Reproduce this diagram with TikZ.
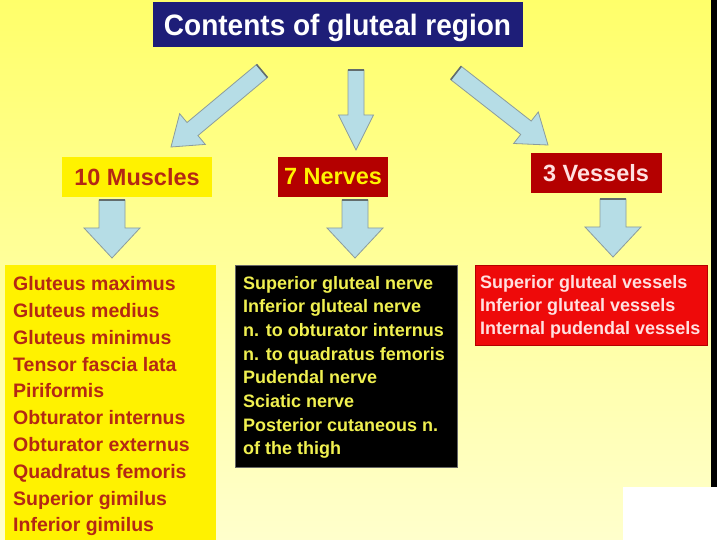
\documentclass[tikz,border=0pt]{standalone}
\usepackage{fontspec}
\setmainfont{Liberation Sans}
\newfontfamily\titlefont[FakeStretch=0.95]{Liberation Sans}
\usetikzlibrary{calc}
\definecolor{bgtop}{HTML}{FFFF6A}
\definecolor{bgbot}{HTML}{FFFFCC}
\definecolor{navy}{HTML}{1E1E78}
\definecolor{darkred}{HTML}{B40000}
\definecolor{mtextc}{HTML}{B42814}
\definecolor{ntextc}{HTML}{F0F050}
\definecolor{vredc}{HTML}{EE0A0A}
\definecolor{vtextc}{HTML}{FFE0E0}
\definecolor{arrfill}{HTML}{B6DDE6}
\definecolor{arrdraw}{HTML}{8C9C9C}
\newcommand\blkarrow[5]{%
  \path ($(#2)!#5!(#1)$) coordinate (tmpC);
  \draw[blockarr] ($(#1)!#3!90:(#2)$) -- ($(tmpC)!#3!90:(#2)$) -- ($(tmpC)!#4!90:(#2)$) -- (#2)
    -- ($(tmpC)!#4!-90:(#2)$) -- ($(tmpC)!#3!-90:(#2)$) -- ($(#1)!#3!-90:(#2)$) -- cycle;
  \draw[tailcap] ($(#1)!#3!90:(#2)$) -- ($(#1)!#3!-90:(#2)$);
}
\begin{document}
\begin{tikzpicture}[x=1pt,y=-1pt,
  blockarr/.style={fill=arrfill, draw=arrdraw, line width=0.8pt, line join=miter},
  tailcap/.style={draw=arrdraw!70!black, line width=1.6pt},
  titlebox/.style={fill=navy, text=white, minimum width=370, minimum height=45, inner sep=0,
    text height=25, text depth=3,
    font=\titlefont\fontsize{29.5}{34}\selectfont\bfseries},
  lbl/.style={inner sep=0, font=\fontsize{23.5}{28}\selectfont\bfseries},
  listtext/.style={inner sep=0, align=left, anchor=north west},
  plainbox/.style={inner sep=0, anchor=north west}
]
\useasboundingbox (0,0) rectangle (720,540);
\fill[top color=bgtop, bottom color=bgbot] (0,0) rectangle (720,540);
\fill[black] (711,0) rectangle (717,487);
\fill[white] (717,0) rectangle (720,540);
\fill[white] (623,487) rectangle (720,540);

% title
\node[titlebox] (title) at (337.5,24.5) {Contents of gluteal region};

% category labels
\node[lbl, fill=yellow, text=mtextc, minimum width=150, minimum height=40] (mus) at (137,177) {10 Muscles};
\node[lbl, fill=darkred, text=yellow, minimum width=110, minimum height=40] (ner) at (333,177) {7 Nerves};
\node[lbl, fill=darkred, text=vtextc, minimum width=131, minimum height=40] (ves) at (596,173) {3 Vessels};

% top arrows
\coordinate (t1) at (262,71);  \coordinate (e1) at (171,147);
\coordinate (t2) at (356,70);  \coordinate (e2) at (356,150);
\coordinate (t3) at (456,73);  \coordinate (e3) at (548,145);
\blkarrow{t1}{e1}{8.5pt}{20pt}{28pt}
\blkarrow{t2}{e2}{8pt}{17.5pt}{35pt}
\blkarrow{t3}{e3}{8.5pt}{20pt}{28pt}

% down arrows
\coordinate (d1) at (112,200); \coordinate (f1) at (112,258);
\coordinate (d2) at (355,200); \coordinate (f2) at (355,258);
\coordinate (d3) at (613,199); \coordinate (f3) at (613,257);
\blkarrow{d1}{f1}{13pt}{28pt}{30pt}
\blkarrow{d2}{f2}{13pt}{28pt}{30pt}
\blkarrow{d3}{f3}{13pt}{28pt}{30pt}

% list boxes
\node[plainbox, fill=yellow, minimum width=211, minimum height=280] (mbox) at (5,265) {};
\node[plainbox, fill=black, draw=black!60, line width=0.6pt, minimum width=222, minimum height=202] (nbox) at (235,265) {};
\node[plainbox, fill=vredc, draw=darkred, line width=0.6pt, minimum width=232, minimum height=80] (vbox) at (475,265) {};

\node[listtext, text=mtextc, font=\fontsize{19.5}{26.8}\selectfont\bfseries] (mlist) at (13,276.4)
 {Gluteus maximus\\Gluteus medius\\Gluteus minimus\\Tensor fascia lata\\Piriformis\\Obturator internus\\Obturator externus\\Quadratus femoris\\Superior gimilus\\Inferior gimilus};
\node[listtext, text=ntextc, font=\fontsize{18}{23.7}\selectfont\bfseries] (nlist) at (243,275.8)
 {Superior gluteal nerve\\Inferior gluteal nerve\\n. to obturator internus\\n. to quadratus femoris\\Pudendal nerve\\Sciatic nerve\\Posterior cutaneous n.\\of the thigh};
\node[listtext, text=vtextc, font=\fontsize{18}{23}\selectfont\bfseries] (vlist) at (480,274.8)
 {Superior gluteal vessels\\Inferior gluteal vessels\\Internal pudendal vessels};
\end{tikzpicture}
\end{document}
